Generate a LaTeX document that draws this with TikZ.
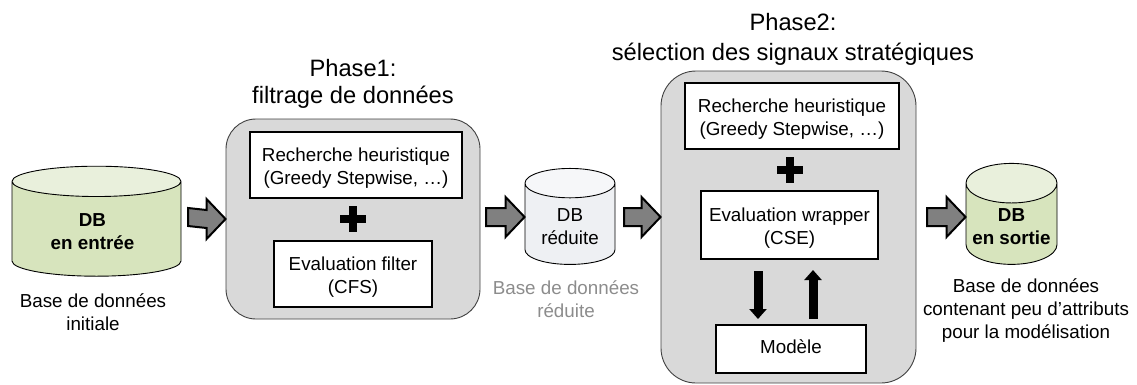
\documentclass[tikz,border=0pt]{standalone}
\usepackage{fontspec}
\setmainfont{Liberation Sans}
\usetikzlibrary{arrows.meta, calc, shapes.geometric}

\tikzset{
	panel/.style={draw=black!75, fill=black!15, line width=.9pt, rounded corners=30pt},
	box/.style={draw=black, fill=white, line width=2pt, align=center, font=\fontsize{18.8}{23}\selectfont, inner sep=0pt},
	twolines/.style={box, text height=42pt},
	db/.style={cylinder, shape border rotate=90, draw=black, line width=.9pt, align=center, cylinder uses custom fill, inner sep=0pt, font=\fontsize{18.8}{23}\selectfont, text height=41pt},
	dbgreen/.style={db, cylinder body fill={rgb,255:red,215;green,228;blue,189}, cylinder end fill={rgb,255:red,233;green,240;blue,220}},
	dbgray/.style={db, cylinder body fill={rgb,255:red,238;green,240;blue,243}, cylinder end fill={rgb,255:red,246;green,247;blue,249}},
	caption/.style={align=center, font=\fontsize{18.8}{23}\selectfont},
	title/.style={align=center, font=\fontsize{23.7}{27}\selectfont},
	fatarrow/.style={draw=black, fill=black!50, line width=2pt, miter limit=6, to path={
		-- ($(\tikztostart)+(0,-9)$) -- ($(\tikztotarget)+(-19,-9)$) -- ($(\tikztotarget)+(-19,-20)$)
		-- (\tikztotarget)
		-- ($(\tikztotarget)+(-19,20)$) -- ($(\tikztotarget)+(-19,9)$) -- ($(\tikztostart)+(0,9)$) -- cycle}},
	feedback/.style={line width=9pt, -{Triangle[width=17pt,length=10pt]}},
	plus/.style={line width=8pt}
}

\begin{document}
\begin{tikzpicture}[x=1pt, y=-1pt]
	\useasboundingbox (0, 0) rectangle (1137, 384);

	\node[panel, minimum width=254pt, minimum height=200pt] (panela) at (353, 219) {};
	\node[panel, rounded corners=35pt, minimum width=255pt, minimum height=312pt] (panelb) at (788.5, 227) {};

	\node[twolines, minimum width=212pt, minimum height=66pt] (searcha) at (356, 165) {Recherche heuristique\\(Greedy Stepwise, …)};
	\node[twolines, minimum width=158pt, minimum height=66pt] (filter) at (353, 274) {Evaluation filter\\(CFS)};
	\node[twolines, minimum width=214pt, minimum height=66pt] (searchb) at (792, 116) {Recherche heuristique\\(Greedy Stepwise, …)};
	\node[twolines, minimum width=177pt, minimum height=68pt] (wrapper) at (789.5, 225) {Evaluation wrapper\\(CSE)};
	\node[box, text depth=4pt, minimum width=150pt, minimum height=48pt] (modele) at (791, 349) {Modèle};

	\node[dbgreen, minimum width=169pt, minimum height=110pt, aspect=.331] (dbin) at (96.5, 229) {\textbf{DB}\hspace*{8pt}\\\textbf{en entrée}\hspace*{8pt}};
	\node[dbgray, minimum width=90pt, minimum height=96pt, aspect=.511] (dbred) at (570, 224) {DB\\réduite};
	\node[dbgreen, minimum width=91pt, minimum height=96pt, aspect=.505] (dbout) at (1011.5, 224) {\textbf{DB}\\\textbf{en sortie}};

	\coordinate (fa) at (188, 217);
	\coordinate (fb) at (486, 217);
	\coordinate (fc) at (624, 217);
	\coordinate (fd) at (927, 217);

	\draw[fatarrow] (fa) to (panela.west);
	\draw[fatarrow] (fb) to (dbred.west |- fb);
	\draw[fatarrow] (fc) to (panelb.west |- fc);
	\draw[fatarrow] (fd) to (dbout.west |- fd);

	\draw[plus] (340, 219) -- (366, 219);
	\draw[plus] (353, 206) -- (353, 232);
	\draw[plus] (777, 170) -- (803, 170);
	\draw[plus] (790, 157) -- (790, 183);

	\draw[feedback, shorten <=11pt, shorten >=5pt] ([xshift=-31.5pt]wrapper.south) -- ([xshift=-33pt]modele.north);
	\draw[feedback, shorten <=5pt, shorten >=10pt] ([xshift=22pt]modele.north) -- ([xshift=23.5pt]wrapper.south);

	\node[title] (titlea) at (353, 84) {Phase1:\\filtrage de données};
	\node[title] (titleb) at (793, 39.5) {Phase2:\\[3pt]sélection des signaux stratégiques};

	\node[caption] (capin) at (93, 312) {Base de données\\initiale};
	\node[caption, text=black!45] (capred) at (566, 299) {Base de données\\réduite};
	\node[caption] (capout) at (1026, 311) {Base de données\\contenant peu d’attributs\\pour la modélisation};
\end{tikzpicture}
\end{document}
